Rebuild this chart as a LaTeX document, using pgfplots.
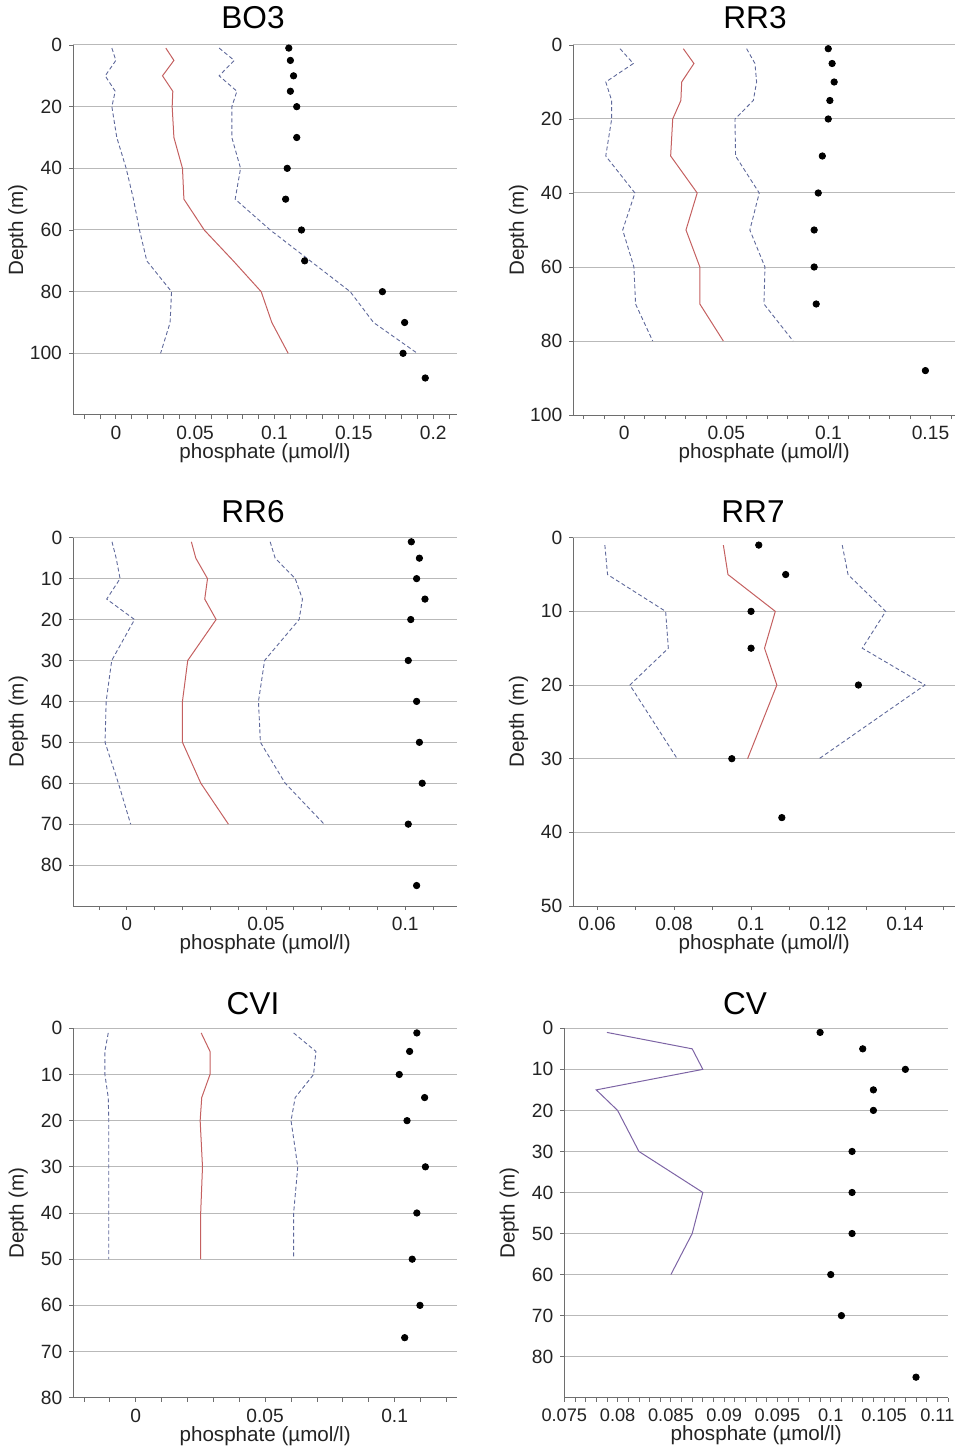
\documentclass[border=0pt]{standalone}
\usepackage{fontspec}
\setmainfont{Liberation Sans}
\usepackage{pgfplots}
\pgfplotsset{compat=1.18}
\definecolor{redline}{RGB}{196,96,96}
\definecolor{blueline}{RGB}{95,105,155}
\definecolor{purpline}{RGB}{125,100,165}
\definecolor{axgray}{RGB}{110,110,110}
\definecolor{txt}{RGB}{35,35,35}
\tikzset{ttl/.style={font=\fontsize{15.8}{16}\selectfont, text=black}}
\pgfplotsset{
 prof/.style={
  scale only axis, anchor=south west,
  y dir=reverse, ymin=0,
  axis x line*=bottom, axis y line*=left,
  axis line style={axgray, line width=0.5pt},
  tick align=outside,
  major tick length=2pt, minor tick length=2pt,
  tick style={axgray, line width=0.4pt},
  ymajorgrids, grid style={gray!55, line width=0.5pt},
  xlabel={phosphate (µmol/l)}, ylabel={Depth (m)},
  label style={font=\fontsize{10.3}{11}\selectfont, text=txt},
  tick label style={font=\fontsize{9.6}{10}\selectfont, text=txt},
  /pgf/number format/assume math mode=true,
  xticklabel style={/pgf/number format/fixed, /pgf/number format/precision=3},
  scaled x ticks=false,
  xlabel style={yshift=5pt},
  ylabel style={at={(axis description cs:-0.1435,0.5)}, anchor=center},
 },
 mean/.style={no markers, color=redline, line width=0.5pt},
 band/.style={no markers, color=blueline, dash pattern=on 2pt off 1.3pt, line width=0.45pt},
 dots/.style={only marks, mark=*, mark size=1.6pt, black},
}
\begin{document}
\begin{tikzpicture}
\useasboundingbox (0pt,0pt) rectangle (477.5pt,724pt);
% ---------------- BO3
\begin{axis}[prof, at={(36.5pt,516.5pt)}, width=192pt, height=185pt,
  xmin=-0.027, xmax=0.215, ymax=120,
  xtick={0,0.05,0.1,0.15,0.2},
  minor xtick={-0.02,-0.01,0.01,0.02,0.03,0.04,0.06,0.07,0.08,0.09,0.11,0.12,0.13,0.14,0.16,0.17,0.18,0.19,0.21},
  ytick={0,20,40,60,80,100}]
\addplot[band] coordinates {(-0.0025,1)(0,5)(-0.0067,10)(-0.0004,15)(-0.0025,20)(0.0006,30)(0.0065,40)(0.0111,50)(0.0149,60)(0.0195,70)(0.0351,80)(0.0342,90)(0.0282,100)};
\addplot[band] coordinates {(0.0651,1)(0.0746,5)(0.0651,10)(0.0763,15)(0.0731,20)(0.0731,30)(0.0786,40)(0.0752,50)(0.0973,60)(0.1225,70)(0.1477,80)(0.1624,90)(0.190,100)};
\addplot[mean] coordinates {(0.0315,1)(0.0366,5)(0.0294,10)(0.0359,15)(0.0355,20)(0.0366,30)(0.042,40)(0.0429,50)(0.0557,60)(0.074,70)(0.0916,80)(0.0983,90)(0.1086,100)};
\addplot[dots] coordinates {(0.109,1)(0.110,5)(0.112,10)(0.110,15)(0.114,20)(0.114,30)(0.108,40)(0.107,50)(0.117,60)(0.119,70)(0.168,80)(0.182,90)(0.181,100)(0.195,108)};
\end{axis}
% ---------------- RR3
\begin{axis}[prof, at={(286.65pt,516.5pt)}, width=190.85pt, height=185pt,
  xmin=-0.025, xmax=0.162, ymax=100,
  xtick={0,0.05,0.1,0.15},
  minor xtick={-0.02,-0.01,0.01,0.02,0.03,0.04,0.06,0.07,0.08,0.09,0.11,0.12,0.13,0.14,0.16},
  ytick={0,20,40,60,80,100}]
\addplot[band] coordinates {(-0.0021,1)(0.0044,5)(-0.0091,10)(-0.0062,15)(-0.0062,20)(-0.0091,30)(0.0052,40)(-0.0008,50)(0.0047,60)(0.0055,70)(0.0139,80)};
\addplot[band] coordinates {(0.0599,1)(0.064,5)(0.0648,10)(0.0632,15)(0.0542,20)(0.0545,30)(0.0661,40)(0.0615,50)(0.0689,60)(0.0684,70)(0.0827,80)};
\addplot[mean] coordinates {(0.0289,1)(0.0341,5)(0.0281,10)(0.0277,15)(0.0237,20)(0.0227,30)(0.0357,40)(0.0302,50)(0.037,60)(0.037,70)(0.0485,80)};
\addplot[dots] coordinates {(0.0999,1)(0.1018,5)(0.1028,10)(0.1007,15)(0.0999,20)(0.097,30)(0.095,40)(0.093,50)(0.093,60)(0.094,70)(0.1475,88)};
\end{axis}
% ---------------- RR6
\begin{axis}[prof, at={(36.65pt,271pt)}, width=191.85pt, height=184.15pt,
  xmin=-0.0192, xmax=0.1186, ymax=90,
  xtick={0,0.05,0.1},
  minor xtick={-0.01,0.01,0.02,0.03,0.04,0.06,0.07,0.08,0.09,0.11},
  ytick={0,10,20,30,40,50,60,70,80}]
\addplot[band] coordinates {(-0.0053,1)(-0.0038,5)(-0.0024,10)(-0.0072,15)(0.0028,20)(-0.0054,30)(-0.0074,40)(-0.0078,50)(-0.003,60)(0.0014,70)};
\addplot[band] coordinates {(0.0515,1)(0.0533,5)(0.0605,10)(0.0631,15)(0.0619,20)(0.0495,30)(0.0473,40)(0.048,50)(0.0569,60)(0.0709,70)};
\addplot[mean] coordinates {(0.0232,1)(0.0248,5)(0.029,10)(0.028,15)(0.0321,20)(0.0219,30)(0.02,40)(0.02,50)(0.0266,60)(0.0365,70)};
\addplot[dots] coordinates {(0.1022,1)(0.1051,5)(0.1041,10)(0.1071,15)(0.102,20)(0.1011,30)(0.1041,40)(0.1051,50)(0.1061,60)(0.1011,70)(0.1041,85)};
\end{axis}
% ---------------- RR7
\begin{axis}[prof, at={(286.65pt,271pt)}, width=190.85pt, height=184.15pt,
  xmin=0.0538, xmax=0.153, ymax=50,
  xtick={0.06,0.08,0.1,0.12,0.14},
  minor xtick={0.07,0.09,0.11,0.13,0.15},
  ytick={0,10,20,30,40,50}]
\addplot[band] coordinates {(0.0620,1)(0.0627,5)(0.0778,10)(0.0785,15)(0.0685,20)(0.0808,30)};
\addplot[band] coordinates {(0.1237,1)(0.1252,5)(0.135,10)(0.1289,15)(0.1452,20)(0.1177,30)};
\addplot[mean] coordinates {(0.0928,1)(0.0940,5)(0.1063,10)(0.1035,15)(0.1067,20)(0.0991,30)};
\addplot[dots] coordinates {(0.1020,1)(0.1090,5)(0.100,10)(0.100,15)(0.1279,20)(0.0950,30)(0.1080,38)};
\end{axis}
% ---------------- CVI
\begin{axis}[prof, at={(36.65pt,25.15pt)}, width=191.85pt, height=184.7pt,
  xmin=-0.0241, xmax=0.1241, ymax=80,
  xtick={0,0.05,0.1},
  minor xtick={-0.02,-0.01,0.01,0.02,0.03,0.04,0.06,0.07,0.08,0.09,0.11,0.12},
  ytick={0,10,20,30,40,50,60,70,80}]
\addplot[band] coordinates {(-0.0106,1)(-0.0119,5)(-0.0119,10)(-0.0106,15)(-0.0104,20)(-0.0104,30)(-0.0104,40)(-0.0104,50)};
\addplot[band] coordinates {(0.061,1)(0.0696,5)(0.0687,10)(0.0616,15)(0.060,20)(0.0626,30)(0.061,40)(0.061,50)};
\addplot[mean] coordinates {(0.0253,1)(0.0287,5)(0.0287,10)(0.0255,15)(0.0249,20)(0.0258,30)(0.0251,40)(0.0251,50)};
\addplot[dots] coordinates {(0.1086,1)(0.1058,5)(0.1018,10)(0.1116,15)(0.1048,20)(0.1119,30)(0.1086,40)(0.1068,50)(0.1098,60)(0.1039,67)};
\end{axis}
% ---------------- CV
\begin{axis}[prof, at={(282.15pt,25.15pt)}, width=191.85pt, height=184.7pt,
  xmin=0.075, xmax=0.111, ymax=90,
  xtick={0.075,0.08,0.085,0.09,0.095,0.1,0.105,0.11},
  minor xtick={0.076,0.077,0.078,0.079,0.081,0.082,0.083,0.084,0.086,0.087,0.088,0.089,0.091,0.092,0.093,0.094,0.096,0.097,0.098,0.099,0.101,0.102,0.103,0.104,0.106,0.107,0.108,0.109,0.111},
  ytick={0,10,20,30,40,50,60,70,80},
  xticklabel style={font=\fontsize{9.1}{10}\selectfont}]
\addplot[no markers, color=purpline, line width=0.5pt] coordinates {(0.079,1)(0.087,5)(0.088,10)(0.078,15)(0.080,20)(0.082,30)(0.088,40)(0.087,50)(0.085,60)};
\addplot[dots] coordinates {(0.099,1)(0.103,5)(0.107,10)(0.104,15)(0.104,20)(0.102,30)(0.102,40)(0.102,50)(0.100,60)(0.101,70)(0.108,85)};
\end{axis}
% titles
\node[ttl] at (126.5pt,715pt) {BO3};
\node[ttl] at (377.5pt,715pt) {RR3};
\node[ttl] at (126.5pt,468.2pt) {RR6};
\node[ttl] at (376.5pt,468.2pt) {RR7};
\node[ttl] at (126.5pt,222.3pt) {CVI};
\node[ttl] at (372.5pt,222.3pt) {CV};
\end{tikzpicture}
\end{document}
